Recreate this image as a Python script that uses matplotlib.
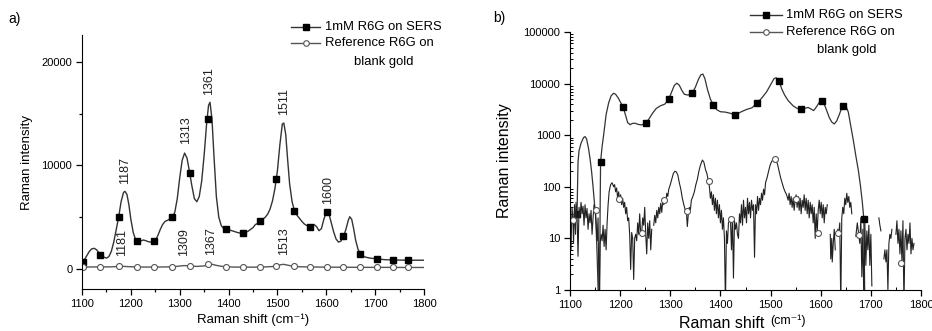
import numpy as np
import matplotlib
matplotlib.use("Agg")
import matplotlib.pyplot as plt
from matplotlib.ticker import MultipleLocator, FixedLocator, FuncFormatter, LogLocator, NullFormatter

plt.rcParams['font.family'] = ['Liberation Sans', 'DejaVu Sans']

# ---------------- Panel a data (linear) ----------------
sers_a_x = [1100, 1105, 1110, 1115, 1120, 1125, 1130, 1135, 1140, 1145, 1150, 1155, 1160, 1165, 1170,
            1175, 1180, 1185, 1188, 1192, 1196, 1200, 1205, 1210, 1215, 1220, 1225, 1230, 1235, 1240,
            1245, 1250, 1255, 1260, 1265, 1270, 1275, 1280, 1285, 1290, 1295, 1300, 1305, 1310, 1315,
            1320, 1325, 1330, 1335, 1340, 1345, 1350, 1355, 1359, 1362, 1366, 1370, 1375, 1380, 1385,
            1390, 1395, 1400, 1410, 1420, 1430, 1440, 1450, 1455, 1460, 1465, 1470, 1475, 1480, 1485,
            1490, 1495, 1500, 1505, 1510, 1513, 1517, 1521, 1525, 1530, 1535, 1540, 1545, 1550, 1555,
            1560, 1565, 1570, 1575, 1580, 1585, 1590, 1595, 1600, 1605, 1610, 1615, 1620, 1625, 1630,
            1635, 1640, 1645, 1648, 1652, 1656, 1660, 1665, 1670, 1675, 1680, 1690, 1700, 1710, 1720,
            1730, 1740, 1750, 1760, 1770, 1780, 1790, 1800]
sers_a_y = [600, 900, 1300, 1700, 1950, 2000, 1850, 1550, 1350, 1150, 1050, 1200, 1700, 2600, 3800,
            5000, 6500, 7400, 7500, 7200, 6200, 4800, 3500, 2800, 2650, 2700, 2800, 2750, 2650, 2600,
            2650, 2750, 3200, 3800, 4300, 4600, 4700, 4850, 5000, 5500, 6800, 8800, 10500, 11200, 10700,
            9400, 8000, 6800, 6500, 7000, 8500, 11000, 14000, 15800, 16100, 14500, 11000, 7000, 5000, 4200,
            3900, 3850, 3800, 3650, 3500, 3450, 3650, 4000, 4300, 4400, 4550, 4800, 5000, 5300, 5800,
            6600, 7800, 9500, 12000, 14000, 14100, 13000, 10500, 8200, 6500, 5600, 5200, 4900, 4600, 4350,
            4200, 4100, 4150, 4300, 4100, 3700, 3900, 4800, 5500, 5400, 4500, 3600, 2900, 2600, 2700,
            3100, 3800, 4700, 5050, 4800, 3900, 2800, 1900, 1450, 1250, 1150, 1050, 1000, 950, 900,
            880, 870, 860, 850, 850, 850, 850, 850]
sers_a_mx = [1102, 1137, 1175, 1212, 1248, 1285, 1321, 1357, 1394, 1429, 1464, 1498, 1533, 1567,
             1601, 1635, 1669, 1703, 1737, 1768]
sers_a_my = [700, 1400, 5000, 2700, 2700, 5000, 9300, 14500, 3900, 3500, 4600, 8700, 5650, 4100,
             5550, 3200, 1450, 1000, 880, 850]

ref_a_x = [1100, 1120, 1140, 1160, 1175, 1181, 1190, 1210, 1230, 1250, 1270, 1290, 1300, 1309, 1320,
           1335, 1350, 1360, 1367, 1375, 1390, 1410, 1430, 1450, 1470, 1490, 1500, 1507, 1513, 1520,
           1530, 1545, 1560, 1580, 1600, 1640, 1680, 1720, 1760, 1800]
ref_a_y = [180, 200, 200, 210, 250, 270, 240, 200, 190, 190, 200, 230, 290, 330, 300, 250, 300, 420,
           450, 350, 230, 190, 180, 180, 190, 240, 320, 420, 450, 380, 280, 220, 200, 190, 180, 170,
           160, 160, 150, 150]
ref_a_mx = sers_a_mx
ref_a_my = [190, 200, 250, 190, 190, 220, 300, 440, 220, 180, 190, 320, 270, 200, 180, 170, 160,
            160, 150, 150]

sers_a_labels = [(1188, 8200, "1187"), (1313, 12100, "1313"), (1361, 16800, "1361"),
                 (1513, 14900, "1511"), (1603, 6300, "1600")]
ref_a_labels = [(1183, 1250, "1181"), (1309, 1250, "1309"), (1365, 1350, "1367"), (1514, 1350, "1513")]

# ---------------- Panel b data (log) ----------------
sers_b_x = [1114, 1116, 1118, 1122, 1127, 1130, 1133, 1137, 1140, 1143, 1146, 1149, 1151, 1154, 1157,
            1159, 1160, 1161, 1164, 1167, 1172, 1177, 1182, 1187, 1191, 1196, 1201, 1206, 1211, 1215,
            1220, 1225, 1230, 1236, 1243, 1251, 1258, 1265, 1272, 1280, 1289, 1297, 1303, 1308, 1313,
            1318, 1323, 1328, 1335, 1343, 1350, 1356, 1361, 1365, 1369, 1374, 1380, 1386, 1393, 1400,
            1410, 1420, 1430, 1440, 1452, 1463, 1473, 1482, 1492, 1500, 1507, 1511, 1517, 1522, 1528,
            1535, 1545, 1553, 1560, 1568, 1575, 1581, 1586, 1592, 1597, 1602, 1607, 1612, 1617, 1622,
            1627, 1632, 1637, 1642, 1645, 1650, 1655, 1660, 1665, 1670, 1675, 1679, 1683, 1686, 1688]
sers_b_y = [30, 300, 500, 700, 900, 940, 850, 550, 350, 200, 100, 45, 32, 5, 0.5,
            0.5, 30, 306, 600, 1000, 2500, 4200, 5800, 6500, 6200, 5300, 4300, 3500, 2400, 1750,
            1600, 1700, 1700, 1620, 1580, 1720, 2100, 2700, 3300, 3700, 4000, 5000, 7000, 9200, 10200,
            9300, 7400, 6200, 6000, 6400, 8500, 12000, 14800, 15300, 12500, 7800, 5000, 3800, 3100, 2850,
            2800, 2650, 2450, 2800, 3150, 3400, 4200, 5200, 6900, 9500, 12500, 13000, 11400, 8000, 6000,
            4700, 3700, 3300, 3150, 3300, 3450, 3200, 3000, 3600, 4300, 4650, 4000, 3000, 2200, 1800,
            1650, 1900, 2500, 3400, 3700, 3750, 2800, 1500, 800, 400, 210, 110, 50, 24, 0.5]
sers_b_mx = [1114.6, 1161, 1206, 1251.6, 1297, 1343, 1386, 1430, 1473.5, 1517, 1560, 1602, 1645, 1686]
sers_b_my = [30, 306, 3560, 1730, 5000, 6500, 3860, 2450, 4270, 11400, 3170, 4680, 3700, 24]

nan = np.nan
ref_b_pts = [
    (1101, 20), (1102, 6), (1104, 40), (1106, 23), (1107, 8), (1109, 45), (1111, 12), (1112, 50),
    (1114, 30), (1116, 4.5), (1118, 40), (1120, 25), (1122, 50), (1124, 30), (1126, 42), (1128, 18),
    (1130, 45), (1132, 25), (1134, 38), (1136, 15), (1138, 30), (1140, 20), (1142, 35), (1144, 12),
    (1146, 25), (1148, 45), (1150, 36), (1152, 20), (1154, 9), (1156, 25), (1158, 0.5), (1160, 8),
    (1162, 12), (1164, 9), (1166, 18), (1168, 7), (1170, 15), (1172, 6), (1174, 20), (1176, 45),
    (1178, 80), (1181, 110), (1184, 120), (1187, 100), (1189, 110), (1191, 80), (1193, 95), (1195, 60),
    (1197, 80), (1199, 55), (1201, 70), (1203, 45), (1205, 60), (1207, 40), (1209, 50), (1211, 30),
    (1213, 40), (1215, 22), (1217, 25), (1219, 12), (1221, 2.5), (1223, 13), (1225, 10), (1227, 1.6),
    (1229, 10), (1231, 12), (1233, 9), (1235, 20), (1237, 12), (1239, 30), (1241, 12), (1243, 13),
    (1245, 25), (1247, 18), (1249, 40), (1251, 12), (1253, 5), (1255, 20), (1257, 10), (1259, 22),
    (1261, 6), (1263, 15), (1265, nan), (1267, 18), (1269, 28), (1271, 20), (1273, 35), (1275, 25),
    (1277, 40), (1279, 30), (1281, 48), (1283, 32), (1285, 55), (1287, 45), (1289, 60), (1291, 50),
    (1293, 75), (1295, 65), (1297, 90), (1300, 110), (1303, 140), (1306, 180), (1309, 200), (1312, 195),
    (1315, 170), (1318, 120), (1321, 90), (1324, 60), (1327, 45), (1330, 35), (1332, 34), (1334, 17),
    (1336, 30), (1338, 40), (1340, 35), (1342, 55), (1345, 65), (1348, 80), (1351, 110), (1354, 140),
    (1357, 200), (1360, 260), (1364, 330), (1367, 300), (1370, 220), (1373, 180), (1376, 130),
    (1378, 100), (1380, 60), (1382, 80), (1384, 45), (1386, 70), (1388, 35), (1390, 60), (1392, 30),
    (1394, 55), (1396, 25), (1398, 45), (1400, 20), (1402, 35), (1404, 15), (1406, 25), (1408, 10),
    (1410, 0.5), (1412, 14), (1414, 8), (1416, 20), (1418, 22), (1420, 24), (1422, 6), (1424, 25),
    (1426, 1.7), (1428, 22), (1430, 15), (1432, 20), (1434, 12), (1436, 10), (1438, 30), (1440, 20),
    (1442, 45), (1444, 18), (1446, 55), (1448, 25), (1450, 40), (1452, 20), (1454, 60), (1456, 30),
    (1458, 50), (1460, 25), (1462, 55), (1464, 35), (1466, 45), (1468, 4.3), (1470, 45), (1472, 30),
    (1474, 65), (1476, 35), (1478, 60), (1480, 45), (1482, 75), (1484, 55), (1486, 90), (1488, 70),
    (1490, 120), (1493, 150), (1496, 200), (1499, 260), (1502, 310), (1505, 330), (1508, 350),
    (1511, 330), (1514, 270), (1517, 200), (1520, 150), (1523, 120), (1526, 95), (1529, 80),
    (1532, 70), (1535, 55), (1537, 75), (1539, 45), (1541, 65), (1543, 40), (1545, 60), (1547, 35),
    (1549, 55), (1551, 70), (1553, 40), (1555, 65), (1557, 35), (1559, 60), (1561, 30), (1563, 55),
    (1565, 40), (1567, 70), (1569, 35), (1571, 60), (1573, 30), (1575, 55), (1577, 25), (1579, 50),
    (1581, 30), (1583, 45), (1585, 20), (1587, 40), (1589, 10), (1591, 30), (1593, 13), (1595, 35),
    (1597, 55), (1599, 30), (1601, 50), (1603, 25), (1605, 45), (1607, 20), (1609, 40), (1611, 30),
    (1613, 45), (1616, nan), (1619, 12), (1620, 4), (1622, 10), (1623, 3.5), (1625, 8), (1627, 15),
    (1629, 6), (1631, nan), (1634, 15), (1636, 12), (1638, 20), (1640, 0.5), (1642, 25), (1644, 40),
    (1646, 30), (1648, 60), (1650, 45), (1652, 75), (1654, 50), (1656, 65), (1658, 40), (1660, 50),
    (1662, 30), (1664, nan), (1670, 11), (1673, 20), (1676, 11.5), (1678, 8), (1680, 25), (1682, 1.8),
    (1684, 15), (1686, 0.5), (1688, 20), (1690, 3), (1692, 14), (1694, 6), (1696, 18), (1698, 3),
    (1700, 12), (1702, 1.2), (1704, nan), (1716, 25), (1718, 18), (1720, 14), (1721, nan), (1726, 4),
    (1728, 6), (1730, 3.5), (1732, 6), (1734, 1), (1736, 8), (1738, 12), (1740, 10), (1742, 15),
    (1743, nan), (1750, 12), (1752, 22), (1754, 8), (1756, 15), (1758, 5), (1760, 14), (1762, 3.5),
    (1764, 22), (1766, 0.5), (1768, 10), (1770, 15), (1772, 6), (1774, 12), (1776, 8), (1778, 20),
    (1780, 5), (1782, 10), (1784, 6), (1786, 8)]
ref_b_x = [p[0] for p in ref_b_pts]
ref_b_y = [p[1] for p in ref_b_pts]
ref_b_mx = [1106, 1151, 1198, 1243, 1288, 1333, 1377, 1421, 1508, 1550, 1594, 1635, 1676, 1760]
ref_b_my = [23, 36, 57, 12.9, 55, 34, 130, 24, 345, 57, 12.9, 12.9, 11.5, 3.3]

legend_labels = ["1mM R6G on SERS", "Reference R6G on", "blank gold"]

# ---------------- Figure ----------------
W, H = 932, 331
fig = plt.figure(figsize=(W / 100, H / 100), dpi=100)

def fx(px):
    return px / W

def fy(py):
    return 1 - py / H

LC = '#333333'

# Panel a
axa = fig.add_axes([fx(82), fy(289), fx(424) - fx(82), fy(35) - fy(289)])
axa.plot(sers_a_x, sers_a_y, color=LC, lw=1.0)
axa.plot(sers_a_mx, sers_a_my, ls='none', marker='s', ms=4.3, color='black')
axa.plot(ref_a_x, ref_a_y, color='#555555', lw=1.0)
axa.plot(ref_a_mx, ref_a_my, ls='none', marker='o', ms=4.3, mfc='white', mec='#555555', mew=0.8)
axa.set_xlim(1100, 1800)
axa.set_ylim(-1930, 22600)
for sp in ['top', 'right']:
    axa.spines[sp].set_visible(False)
axa.xaxis.set_major_locator(MultipleLocator(100))
axa.xaxis.set_minor_locator(MultipleLocator(50))
axa.yaxis.set_major_locator(FixedLocator([0, 10000, 20000]))
axa.yaxis.set_minor_locator(FixedLocator([5000, 15000]))
axa.tick_params(which='major', direction='out', length=4, width=0.9, labelsize=8, pad=3)
axa.tick_params(which='minor', direction='out', length=2.5, width=0.9)
axa.set_ylabel("Raman intensity", fontsize=9.5, labelpad=6)
fig.text(fx(253), fy(320), "Raman shift (cm\u207b\u00b9)", fontsize=9.5, ha='center', va='center')
for x, y, t in sers_a_labels + ref_a_labels:
    axa.text(x, y, t, rotation=90, ha='center', va='bottom', fontsize=9, color='#222222')
fig.text(fx(8), fy(19), "a)", fontsize=10, ha='left', va='center')

# legend drawing
def draw_legend(x0, x1, xt, ys, xc3, y3, size):
    fig.add_artist(plt.Line2D([fx(x0), fx(x1)], [fy(ys[0]), fy(ys[0])], color=LC, lw=1.0))
    fig.add_artist(plt.Line2D([fx((x0 + x1) / 2)], [fy(ys[0])], marker='s', ms=4, color='black', ls='none'))
    fig.add_artist(plt.Line2D([fx(x0), fx(x1)], [fy(ys[1]), fy(ys[1])], color='#555555', lw=1.0))
    fig.add_artist(plt.Line2D([fx((x0 + x1) / 2)], [fy(ys[1])], marker='o', ms=4, mfc='white',
                              mec='#555555', mew=0.8, ls='none'))
    fig.text(fx(xt), fy(ys[0]), legend_labels[0], fontsize=size, ha='left', va='center')
    fig.text(fx(xt), fy(ys[1]), legend_labels[1], fontsize=size, ha='left', va='center')
    fig.text(fx(xc3), fy(y3), legend_labels[2], fontsize=size, ha='center', va='center')

draw_legend(291, 320, 325, [27, 43], 384, 62, 9.4)

# Panel b
axb = fig.add_axes([fx(570), fy(290), fx(921) - fx(570), fy(32) - fy(290)])
axb.set_yscale('log')
axb.plot(sers_b_x, sers_b_y, color=LC, lw=0.9)
axb.plot(sers_b_mx, sers_b_my, ls='none', marker='s', ms=4.3, color='black')
axb.plot(ref_b_x, ref_b_y, color='#222222', lw=0.8)
axb.plot(ref_b_mx, ref_b_my, ls='none', marker='o', ms=4.3, mfc='white', mec='#555555', mew=0.8)
axb.set_xlim(1100, 1800)
axb.set_ylim(1, 100000)
for sp in ['top', 'right']:
    axb.spines[sp].set_visible(False)
axb.xaxis.set_major_locator(MultipleLocator(100))
axb.xaxis.set_minor_locator(MultipleLocator(50))
axb.yaxis.set_major_locator(LogLocator(base=10, numticks=10))
axb.yaxis.set_minor_locator(LogLocator(base=10, subs=np.arange(2, 10), numticks=10))
axb.yaxis.set_minor_formatter(NullFormatter())
axb.yaxis.set_major_formatter(FuncFormatter(lambda v, p: "%d" % round(v)))
axb.tick_params(which='major', direction='out', length=4, width=0.9, labelsize=8, pad=3)
axb.tick_params(which='minor', direction='in', length=2.5, width=0.7)
axb.set_ylabel("Raman intensity", fontsize=11.5, labelpad=8)
fig.text(fx(679), fy(323), "Raman shift", fontsize=11.5, ha='left', va='center')
fig.text(fx(770), fy(321), "(cm\u207b\u00b9)", fontsize=9, ha='left', va='center')
fig.text(fx(493), fy(18), "b)", fontsize=10, ha='left', va='center')

draw_legend(750, 782, 786, [15, 32], 847, 50, 9.4)

fig.savefig("out.png", dpi=100)
